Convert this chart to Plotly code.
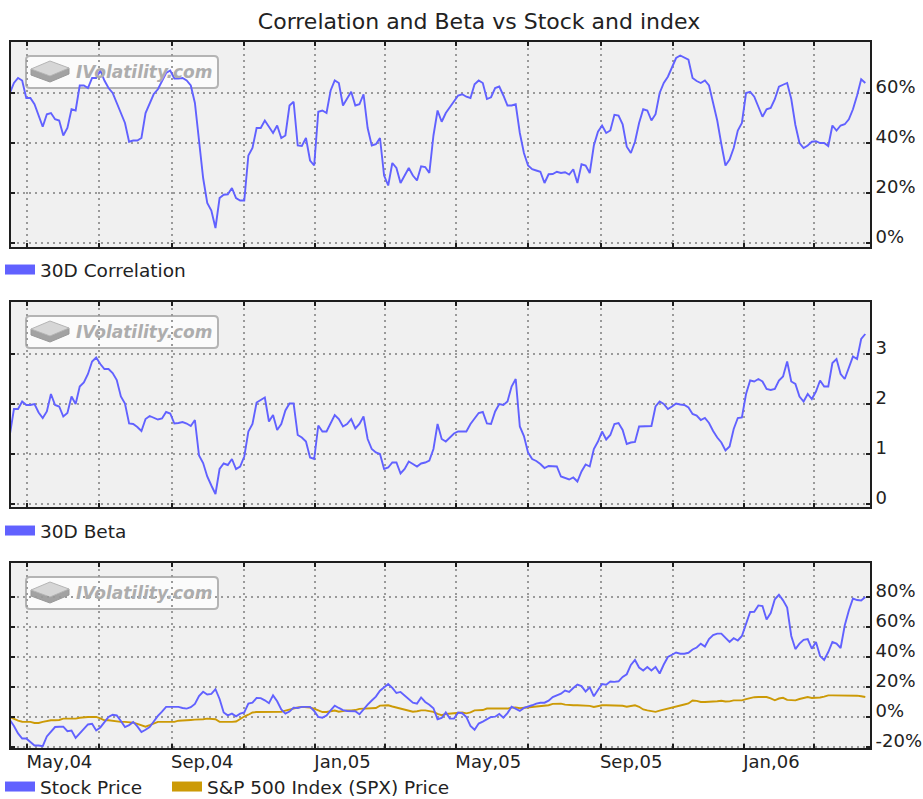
import pandas as pd
import plotly.graph_objects as go

# ---------------- data: readings twice a week (Fridays + mid-week) ----------------
dates_fri = pd.date_range("2004-04-16", periods=105, freq="7D")
dates_mid = pd.date_range("2004-04-19 12:00", periods=104, freq="7D")

corr_fri = [60, 66, 58, 55.5, 46.5, 52, 49, 46, 53, 63,
            66, 69, 62, 56, 48, 41, 42, 56, 61.5, 68,
            65.8, 66, 63, 42, 16, 6, 19.3, 22, 17, 35,
            46, 49, 44, 42, 55, 39, 42, 31, 53, 61,
            64, 57.6, 55, 59.5, 39, 42, 23, 30, 27, 27,
            30.7, 28, 53, 52, 56.5, 59.5, 58, 65, 57.6, 62,
            59, 55, 44, 31, 29, 24, 27.6, 28, 27.4, 24,
            31, 39, 47, 45, 51, 38.5, 40.5, 53.5, 49, 60,
            66.5, 74, 74.3, 66, 64, 63, 49, 31, 38, 48,
            60.5, 54.5, 53.5, 57.5, 63.3, 57.6, 40, 39, 40.7, 40,
            47, 47, 49.5, 59, 64]
corr_mid = [64, 65, 58, 51, 51.5, 49.5, 43, 53.5, 63, 62,
            66, 65, 60, 52, 40.5, 41, 52, 59.6, 64.5, 69,
            65.8, 65, 56, 26, 13, 18, 19.5, 18, 17, 38,
            46, 46.5, 47, 43, 56.5, 38.8, 33, 52.5, 52, 65,
            55, 60.5, 55.5, 46, 39.5, 27, 32, 24, 30, 25,
            30.4, 43, 48.5, 54.5, 59, 58.5, 63.5, 64, 58.3, 62.6,
            55, 55.5, 36, 29.5, 28.5, 27.5, 28.5, 28.3, 29.5, 31.5,
            28, 44.5, 44, 51.3, 47.5, 36, 48, 53, 51.5, 64,
            70.5, 75, 73.3, 64.8, 65, 55.5, 39.5, 33.4, 45, 60,
            58.5, 50.5, 54, 62.5, 64, 47.2, 38, 40.5, 40, 38.8,
            45, 47.5, 53.5, 65.5]

beta_fri = [1.38, 1.9, 1.98, 2.0, 1.72, 2.2, 1.95, 1.82, 2.0, 2.43,
            2.85, 2.8, 2.7, 2.48, 2.01, 1.6, 1.46, 1.76, 1.69, 1.84,
            1.61, 1.64, 1.56, 0.97, 0.55, 0.2, 0.81, 0.9, 0.75, 1.45,
            2.03, 2.13, 1.78, 1.6, 2.01, 1.38, 1.25, 0.9, 1.45, 1.61,
            1.7, 1.6, 1.51, 1.75, 1.1, 1.0, 0.73, 0.83, 0.7, 0.8,
            0.81, 0.87, 1.6, 1.25, 1.41, 1.45, 1.6, 1.82, 1.61, 1.85,
            1.98, 2.35, 1.55, 1.03, 0.86, 0.72, 0.75, 0.55, 0.49, 0.45,
            0.79, 1.1, 1.45, 1.38, 1.62, 1.2, 1.24, 1.55, 1.56, 2.05,
            1.9, 2.01, 1.98, 1.8, 1.68, 1.62, 1.33, 1.07, 1.5, 1.73,
            2.47, 2.5, 2.3, 2.3, 2.55, 2.45, 2.15, 2.2, 2.25, 2.35,
            2.82, 2.6, 2.72, 2.9, 3.4]
beta_mid = [1.9, 2.05, 1.98, 1.83, 1.85, 1.98, 1.75, 2.15, 2.35, 2.6,
            2.93, 2.7, 2.62, 2.15, 1.61, 1.54, 1.7, 1.73, 1.71, 1.81,
            1.62, 1.61, 1.68, 0.82, 0.37, 0.7, 0.78, 0.7, 0.95, 1.6,
            2.08, 1.65, 1.48, 1.87, 2.01, 1.33, 0.93, 1.57, 1.45, 1.78,
            1.55, 1.7, 1.6, 1.3, 1.03, 0.7, 0.83, 0.61, 0.85, 0.75,
            0.83, 1.1, 1.3, 1.33, 1.45, 1.45, 1.7, 1.84, 1.6, 2.0,
            2.05, 2.5, 1.36, 0.9, 0.8, 0.76, 0.75, 0.52, 0.53, 0.65,
            0.75, 1.25, 1.29, 1.6, 1.48, 1.23, 1.55, 1.56, 1.95, 2.0,
            1.95, 1.99, 1.93, 1.77, 1.72, 1.46, 1.23, 1.15, 1.72, 2.2,
            2.45, 2.45, 2.28, 2.47, 2.85, 2.4, 2.05, 2.1, 2.47, 2.35,
            2.9, 2.5, 2.95, 3.3]

stock_fri = [-2, -11, -14.4, -19, -19.5, -10, -6.5, -9.5, -14, -8.5,
             -4.5, -7, 0, 1, -6.7, -3.3, -10, -6.7, 0.7, 6.7,
             6.7, 6, 6.5, 14, 15, 18.5, 3, 2.2, 2.2, 8.9,
             12.7, 11.1, 14.4, 5, 3.6, 6, 6.7, 4, -0.5, 4.4,
             6, 4, 3.8, 5.3, 11, 17.5, 22, 16, 14.2, 9.5,
             13, 8.2, -1.5, 3, -1.1, 2.5, -6, -4.4, -1.5, 0.2,
             -0.5, 6.8, 4, 6.7, 8.9, 9.5, 13.3, 15.5, 16.7, 21.6,
             17, 13.8, 22, 23.6, 23.8, 28.5, 38, 31, 31, 29,
             40, 43, 42.2, 45, 48.9, 52, 55.6, 52.5, 52.5, 54,
             70, 74.4, 65, 78.5, 77.8, 54, 48.9, 52, 50, 38,
             50, 46, 71, 78, 80]
stock_mid = [-6, -14.4, -16.5, -19, -13, -6.7, -6.5, -9, -11, -5,
             -9, -3.5, 1.5, -2.7, -5.4, -6.3, -8.5, -3, 3.5, 6.7,
             6.7, 5.6, 8.7, 16.8, 15.4, 12, 1.1, 0.4, 3, 9.5,
             12.6, 9.2, 10.5, 2.2, 6.2, 6.7, 6.7, 0, 0.9, 7.5,
             4.6, 3.9, 1.8, 8.2, 13.6, 19.5, 19.4, 16.7, 12.2, 8.9,
             10, 5.8, -0.7, -1, 3, 0, -8.5, -3.1, 0, 2,
             2.6, 5.6, 6, 7.8, 9.5, 10.9, 14.4, 17.6, 19.3, 20.6,
             19.8, 18, 21.5, 23.4, 26.7, 34.7, 33, 33.3, 33.4, 35,
             41.5, 42.2, 42.8, 46.3, 47, 54.6, 55.6, 50, 51, 61.5,
             70.2, 74, 69.3, 81.5, 73, 45.3, 51.5, 45.5, 40.6, 43.3,
             48.9, 61, 79, 77.7]

spx_fri = [0, -2.5, -3.3, -4, -3.3, -2.2, -2, -1.1, -1.1, 0,
           0, -1, -2.2, -3.3, -3.3, -3.8, -5.8, -5.5, -3.3, -3.3,
           -3.3, -2.2, -2, -1.8, -1.1, -1.5, -3.3, -3.3, -1.1, 1.5,
           3.3, 3.3, 3.3, 3.4, 5, 6.3, 6.7, 5.5, 3.3, 4,
           3.5, 4.4, 4.6, 5.6, 5.6, 7.6, 7.8, 6.3, 5, 3.5,
           4.4, 4, 2, 2, 2.2, 3, 3, 4.4, 5.6, 5.6,
           5.6, 6.2, 5.8, 6.7, 7, 7.8, 8.7, 8.9, 7.8, 7.8,
           7.8, 6.7, 7.8, 7.8, 7.8, 6.8, 7.8, 5, 3.8, 4.2,
           5.6, 7, 8.3, 11, 10, 10, 10.5, 10.3, 11.1, 11.1,
           12.8, 13.3, 13.3, 11.1, 12.8, 11.1, 12, 13.3, 12.6, 13.6,
           14.4, 14.4, 14.4, 14.2, 13.3]
spx_mid = [-1.5, -3.2, -3.3, -4, -2.7, -2.2, -1.1, -1.1, -0.5, 0,
           0, -2.2, -2.7, -3.3, -3.3, -4.6, -6.5, -4.4, -3.3, -3.3,
           -2.5, -2.2, -1.8, -1.5, -1.1, -3.2, -3.3, -3, 0.3, 3,
           3.3, 3.3, 3.3, 4.2, 5.6, 6.7, 6.2, 4.5, 3.3, 4.3,
           4, 4.4, 5.4, 5.6, 6, 7.8, 7, 5.6, 4.1, 3.8,
           4.4, 3.4, 1.2, 2.2, 2.8, 2.4, 4.4, 4.6, 5.6, 5.6,
           5.6, 6.4, 6.1, 6.7, 7.7, 7.8, 8.9, 8.2, 7.8, 7.8,
           7.4, 7.3, 7.8, 7.8, 7.5, 7.3, 6.8, 4.4, 3.4, 4.8,
           6.3, 7.6, 9, 10.7, 10, 10, 10.8, 10.4, 11.1, 11.9,
           13.2, 13.3, 12.4, 12.3, 11.4, 11.1, 12.6, 12.7, 13, 14.4,
           14.4, 14.4, 14.4, 13.8]

x_tickvals = ["2004-05-01", "2004-07-01", "2004-09-01", "2004-11-01",
              "2005-01-01", "2005-03-01", "2005-05-01", "2005-07-01",
              "2005-09-01", "2005-11-01", "2006-01-01", "2006-03-01"]
x_ticktext = ["May,04", "", "Sep,04", "", "Jan,05", "", "May,05", "",
              "Sep,05", "", "Jan,06", ""]

corr_tickvals = [0, 20, 40, 60]
corr_ticktext = ["0%", "20%", "40%", "60%"]
beta_tickvals = [0, 1, 2, 3]
beta_ticktext = ["0", "1", "2", "3"]
ret_tickvals = [-20, 0, 20, 40, 60, 80]
ret_ticktext = ["-20%", "0%", "20%", "40%", "60%", "80%"]

TITLE = "Correlation and Beta vs Stock and index"
NAMES = ["30D Correlation", "30D Beta", "Stock Price", "S&P 500 Index (SPX) Price"]


def series(fri_vals, mid_vals):
    s = pd.concat([pd.Series(fri_vals, index=dates_fri),
                   pd.Series(mid_vals, index=dates_mid)]).sort_index()
    return s


corr = series(corr_fri, corr_mid)
beta = series(beta_fri, beta_mid)
stock = series(stock_fri, stock_mid)
spx = series(spx_fri, spx_mid)

# ---------------- styling ----------------
BLUE = "#6161ff"
GOLD = "#cc9a06"
GRID = "#9a9a9a"
BORDER = "#1e1e1e"
TXT = "#222222"
FONT = "DejaVu Sans"
LW = 1.9
W, H = 923, 799
PL, PR = 11, 870
PANELS = [(42, 247), (302, 507), (563, 748)]


def px(x):
    return x / W


def py(y):
    return 1 - y / H


fig = go.Figure()

# data traces
fig.add_trace(go.Scatter(x=corr.index, y=corr.values, mode="lines", name=NAMES[0],
                         line=dict(color=BLUE, width=LW), xaxis="x", yaxis="y",
                         showlegend=False))
fig.add_trace(go.Scatter(x=beta.index, y=beta.values, mode="lines", name=NAMES[1],
                         line=dict(color=BLUE, width=LW), xaxis="x2", yaxis="y2",
                         showlegend=False))
fig.add_trace(go.Scatter(x=spx.index, y=spx.values, mode="lines", name=NAMES[3],
                         line=dict(color=GOLD, width=LW), xaxis="x3", yaxis="y3",
                         showlegend=False))
fig.add_trace(go.Scatter(x=stock.index, y=stock.values, mode="lines", name=NAMES[2],
                         line=dict(color=BLUE, width=LW), xaxis="x3", yaxis="y3",
                         showlegend=False))

# legend entries (swatches)
for name, color, leg, xa, ya, lw in [(NAMES[0], BLUE, "legend", "x", "y", None),
                                     (NAMES[1], BLUE, "legend2", "x2", "y2", None),
                                     (NAMES[2], BLUE, "legend3", "x3", "y3", 122),
                                     (NAMES[3], GOLD, "legend3", "x3", "y3", None)]:
    fig.add_trace(go.Scatter(x=[None], y=[None], mode="lines", name=name,
                             line=dict(color=color, width=10), legend=leg,
                             legendwidth=lw,
                             xaxis=xa, yaxis=ya, showlegend=True, hoverinfo="skip"))

xcommon = dict(type="date", range=["2004-04-17", "2006-04-18"],
               domain=[px(PL), px(PR)],
               tickmode="array", tickvals=x_tickvals, ticktext=x_ticktext,
               showgrid=True, gridcolor=GRID, griddash="2px,4px", gridwidth=1.6,
               showline=True, linecolor=BORDER, linewidth=2, mirror="ticks",
               ticks="inside", ticklen=4, tickcolor=BORDER, tickwidth=2,
               zeroline=False, fixedrange=True)
ycommon = dict(side="right", showgrid=True, gridcolor=GRID, griddash="2px,4px",
               gridwidth=1.6, showline=True, linecolor=BORDER, linewidth=2,
               mirror="ticks", ticks="inside", ticklen=4, tickcolor=BORDER,
               tickwidth=2, zeroline=False, tickmode="array",
               tickfont=dict(family=FONT, size=18, color=TXT),
               ticklabelshift=-6, fixedrange=True)

layout = dict(
    width=W, height=H, margin=dict(l=0, r=0, t=0, b=0, autoexpand=False),
    paper_bgcolor="white", plot_bgcolor="#f0f0f0",
    title=dict(text=TITLE, x=479 / W, xanchor="center", y=py(21), yanchor="middle",
               font=dict(family=FONT, size=22, color=TXT)),
    xaxis=dict(xcommon, anchor="y", showticklabels=False),
    xaxis2=dict(xcommon, anchor="y2", showticklabels=False, matches="x"),
    xaxis3=dict(xcommon, anchor="y3", showticklabels=True, matches="x",
                ticklabelposition="outside right", ticklabelshift=-3,
                ticklabelstandoff=-4,
                tickfont=dict(family=FONT, size=18, color=TXT)),
)
ranges = [[-1.6, 80.4], [-0.06, 4.04], [-20.7, 102.7]]
tvs = [(corr_tickvals, corr_ticktext), (beta_tickvals, beta_ticktext),
       (ret_tickvals, ret_ticktext)]
for i, (top, bot) in enumerate(PANELS):
    key = "yaxis" if i == 0 else f"yaxis{i + 1}"
    anchor = "x" if i == 0 else f"x{i + 1}"
    layout[key] = dict(ycommon, domain=[py(bot), py(top)], range=ranges[i],
                       tickvals=tvs[i][0], ticktext=tvs[i][1], anchor=anchor)

legfont = dict(family=FONT, size=18.5, color=TXT)
legcommon = dict(xanchor="left", yanchor="middle", orientation="h",
                 bgcolor="rgba(0,0,0,0)", borderwidth=0, font=legfont,
                 itemwidth=30, itemclick=False, itemdoubleclick=False)
layout["legend"] = dict(legcommon, x=px(0), y=py(270))
layout["legend2"] = dict(legcommon, x=px(0), y=py(531))
layout["legend3"] = dict(legcommon, x=px(0), y=py(787))
fig.update_layout(**layout)

# ---------------- IVolatility watermark boxes ----------------
shapes = []
annotations = []
for i, (top, bot) in enumerate(PANELS):
    sx = "x domain" if i == 0 else f"x{i + 1} domain"
    sy = "y domain" if i == 0 else f"y{i + 1} domain"

    def dx(x):
        return (x - PL) / (PR - PL)

    def dy(y, top=top, bot=bot):
        return (bot - y) / (bot - top)

    # rounded rectangle (pixel corners converted to domain fractions)
    x0, x1, y0, y1, r = 26, 218, top + 14, top + 46, 4
    box = (f"M {dx(x0 + r)} {dy(y0)} L {dx(x1 - r)} {dy(y0)} "
           f"Q {dx(x1)} {dy(y0)} {dx(x1)} {dy(y0 + r)} "
           f"L {dx(x1)} {dy(y1 - r)} Q {dx(x1)} {dy(y1)} {dx(x1 - r)} {dy(y1)} "
           f"L {dx(x0 + r)} {dy(y1)} Q {dx(x0)} {dy(y1)} {dx(x0)} {dy(y1 - r)} "
           f"L {dx(x0)} {dy(y0 + r)} Q {dx(x0)} {dy(y0)} {dx(x0 + r)} {dy(y0)} Z")
    shapes.append(dict(type="path", xref=sx, yref=sy, layer="below", path=box,
                       fillcolor="#fbfbfb", line=dict(color="#b4b4b4", width=2)))
    top_face = (f"M {dx(31)} {dy(top + 27)} L {dx(50)} {dy(top + 19)} "
                f"L {dx(69)} {dy(top + 26)} L {dx(50)} {dy(top + 34)} Z")
    side_face = (f"M {dx(31)} {dy(top + 27)} L {dx(50)} {dy(top + 34)} "
                 f"L {dx(69)} {dy(top + 26)} L {dx(69)} {dy(top + 32)} "
                 f"L {dx(50)} {dy(top + 40)} L {dx(31)} {dy(top + 33)} Z")
    shapes.append(dict(type="path", xref=sx, yref=sy, layer="below", path=side_face,
                       fillcolor="#a2a2a2", line=dict(color="#999999", width=1)))
    shapes.append(dict(type="path", xref=sx, yref=sy, layer="below", path=top_face,
                       fillcolor="#d6d6d6", line=dict(color="#b5b5b5", width=1)))
    annotations.append(dict(xref=sx, yref=sy, x=dx(144), y=dy(top + 30),
                            text="IVolatility.com", showarrow=False,
                            xanchor="center", yanchor="middle",
                            font=dict(family=FONT, size=17, color="#adadad",
                                      weight="bold", style="italic")))

fig.update_layout(shapes=shapes, annotations=annotations)

fig.write_html("out.html", config={"displayModeBar": False},
               post_script="document.body.style.margin='0px';")
